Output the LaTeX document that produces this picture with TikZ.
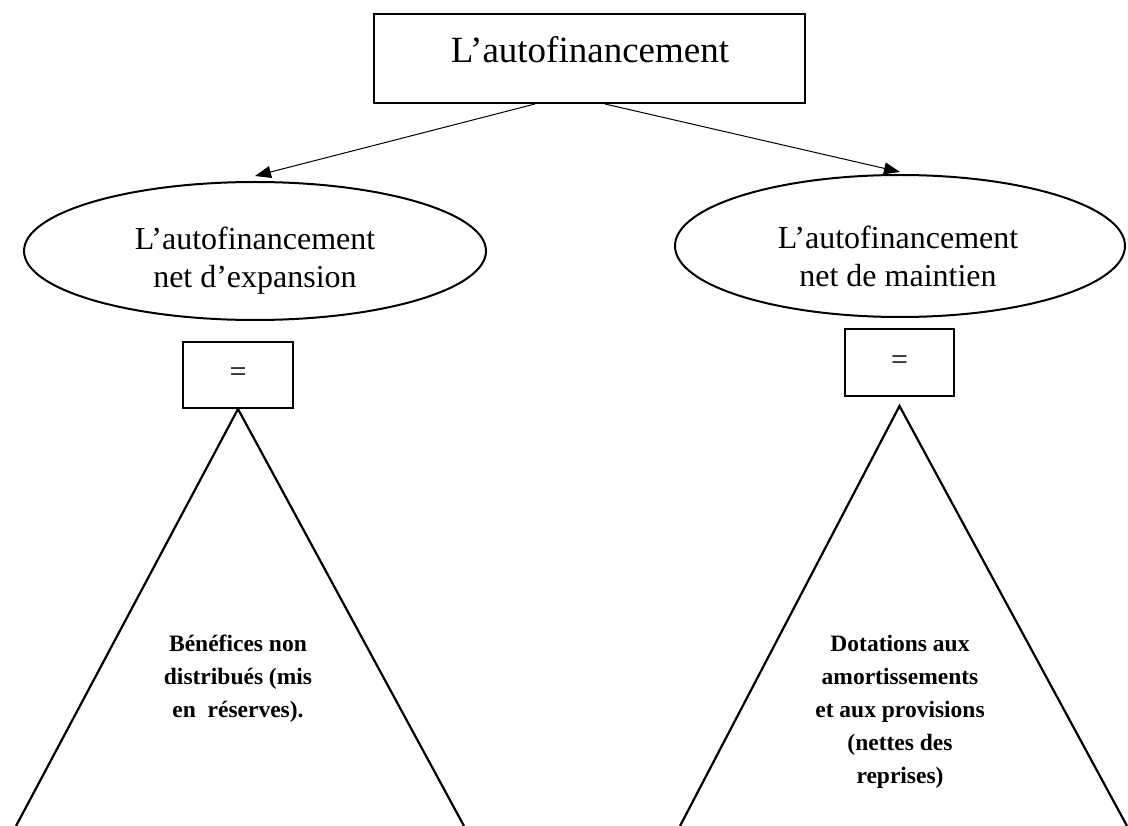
\documentclass[tikz,border=0pt]{standalone}
\usepackage{fontspec}
\setmainfont{Liberation Serif}
\usetikzlibrary{arrows.meta,shapes.geometric}
\begin{document}
\begin{tikzpicture}[x=1pt,y=-1pt,
  frame/.style={draw, line width=2pt, rectangle, inner sep=0pt},
  oval/.style={draw, line width=2pt, ellipse, inner sep=0pt},
  link/.style={line width=1pt, -{Triangle[length=16pt,width=12pt]}},
  side/.style={line width=2.2pt},
  title/.style={font=\fontsize{37}{44}\selectfont},
  ovaltext/.style={font=\fontsize{32}{38}\selectfont, align=center},
  eqtext/.style={font=\fontsize{30}{34}\selectfont},
  body/.style={font=\fontsize{23.5}{33}\selectfont\bfseries, align=center}]
\useasboundingbox (0,0) rectangle (1128,826);

% heading box
\node[frame, minimum width=431pt, minimum height=89pt] (top) at (589.5,58.5) {};
\node[title, anchor=base] (toplabel) at (590,63) {L’autofinancement};

% the two kinds of self-financing
\node[oval, minimum width=462pt, minimum height=138pt] (exp) at (255,251) {};
\node[ovaltext] (explabel) at (255,261) {L’autofinancement\\net d’expansion};
\node[oval, minimum width=450pt, minimum height=142pt] (maint) at (900,246) {};
\node[ovaltext] (maintlabel) at (898,256) {L’autofinancement\\net de maintien};

\draw[link] ([xshift=-54.5pt]top.south) -- ([yshift=5pt]exp.north);
\draw[link] ([xshift=15.5pt]top.south) -- ([yshift=2pt]maint.north);

% equality boxes
\node[frame, minimum width=110pt, minimum height=66pt] (eqL) at (238,375) {};
\node[eqtext] (eqLlabel) at (eqL.center) {=};
\node[frame, minimum width=109pt, minimum height=67pt] (eqR) at (899.5,362.5) {};
\node[eqtext] (eqRlabel) at (eqR.center) {=};

% triangles opening towards the bottom edge
\coordinate (lA) at (eqL.south);
\coordinate (lB1) at (16,826);
\coordinate (lB2) at (464,826);
\draw[side] (lB1) -- (lA) -- (lB2);
\coordinate (rA) at ([yshift=-9pt]eqR.south);
\coordinate (rB1) at (680,826);
\coordinate (rB2) at (1127,826);
\draw[side] (rB1) -- (rA) -- (rB2);

\node[body] (gain) at (238,679) {Bénéfices non\\distribués (mis\\en\ \ réserves).};
\node[body] (dot) at (900,712) {Dotations aux\\amortissements\\et aux provisions\\(nettes des\\reprises)};
\end{tikzpicture}
\end{document}
